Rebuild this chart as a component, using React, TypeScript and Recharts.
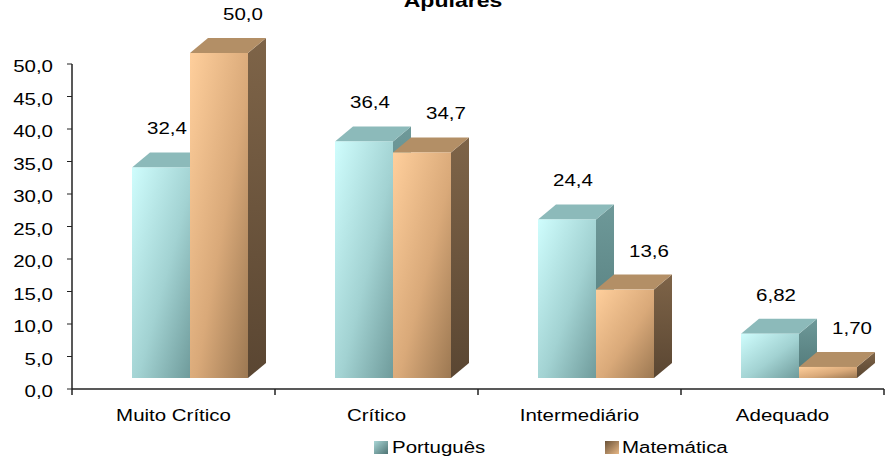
import { BarChart, Bar, XAxis, YAxis, Legend, LabelList } from 'recharts'

const categories = ['Muito Crítico', 'Crítico', 'Intermediário', 'Adequado']
const portugues = [32.4, 36.4, 24.4, 6.82]
const matematica = [50.0, 34.7, 13.6, 1.7]
const labelsPortugues = ['32,4', '36,4', '24,4', '6,82']
const labelsMatematica = ['50,0', '34,7', '13,6', '1,70']
const yTicks = [0, 5, 10, 15, 20, 25, 30, 35, 40, 45, 50]

const data = categories.map((name, i) => ({ name, pt: portugues[i], mat: matematica[i] }))

const FONT = '"Liberation Sans", Arial, sans-serif'
const STRETCH = 1.28
// front face sits up/right of the axis plane, like the excel 3d projection
const SHIFT_X = 16
const SHIFT_Y = -11
const DX = 18
const DY = 15

const palette = {
  pt: { front: 'url(#ptFront)', top: '#8cbaba', side: 'url(#ptSide)' },
  mat: { front: 'url(#matFront)', top: '#b38f66', side: 'url(#matSide)' },
}

function Bar3D(props: any) {
  const { x, y, width, height, variant } = props
  if (x == null || y == null) return null
  const c = palette[variant as 'pt' | 'mat']
  const fx = x + SHIFT_X
  const fy = y + SHIFT_Y
  const w = width
  const h = height
  return (
    <g>
      <polygon
        points={`${fx + w},${fy} ${fx + w + DX},${fy - DY} ${fx + w + DX},${fy + h - DY} ${fx + w},${fy + h}`}
        fill={c.side}
      />
      <polygon
        points={`${fx},${fy} ${fx + DX},${fy - DY} ${fx + w + DX},${fy - DY} ${fx + w},${fy}`}
        fill={c.top}
      />
      <rect x={fx} y={fy} width={w} height={h} fill={c.front} />
    </g>
  )
}

function StretchText({ x, y, anchor, size = 16, weight = 'normal', children }: any) {
  return (
    <text
      transform={`translate(${x},${y}) scale(${STRETCH},1)`}
      textAnchor={anchor}
      fontFamily={FONT}
      fontSize={size}
      fontWeight={weight}
      fill="#000"
    >
      {children}
    </text>
  )
}

function makeLabel(texts: string[], offX: number) {
  return (p: any) => {
    const { x, y, width, index } = p
    const cx = x + width / 2 + SHIFT_X + offX
    const cy = y + SHIFT_Y - 33
    return <StretchText x={cx} y={cy} anchor="middle">{texts[index]}</StretchText>
  }
}

function YTick(p: any) {
  const { x, y, payload } = p
  const txt = payload.value.toFixed(1).replace('.', ',')
  return <StretchText x={x - 14} y={y + 8} anchor="end">{txt}</StretchText>
}

function XTick(p: any) {
  const { x, y, payload, index } = p
  const off = payload.offset ?? 101.5
  return (
    <g>
      <line x1={x - off} y1={y} x2={x - off} y2={y + 6} stroke="#222" strokeWidth={1.5} />
      {index === categories.length - 1 && (
        <line x1={x + off} y1={y} x2={x + off} y2={y + 6} stroke="#222" strokeWidth={1.5} />
      )}
      <StretchText x={x} y={y + 32} anchor="middle">{payload.value}</StretchText>
    </g>
  )
}

function LegendBox() {
  return (
    <svg width={886} height={26}>
      <rect x={374} y={9} width={14} height={13} fill="url(#ptIcon)" />
      <StretchText x={392} y={21} anchor="start">Português</StretchText>
      <rect x={605} y={9} width={14} height={13} fill="url(#matIcon)" />
      <StretchText x={622} y={21} anchor="start">Matemática</StretchText>
    </svg>
  )
}

export default function App() {
  return (
    <div style={{ position: 'absolute', left: 0, top: 0, width: 886, height: 457, background: '#fff' }}>
      <svg width={886} height={20} style={{ position: 'absolute', left: 0, top: 0, zIndex: 2 }}>
        <StretchText x={453} y={7} anchor="middle" size={18} weight="bold">Apuiarés</StretchText>
      </svg>
      <BarChart
        width={886}
        height={457}
        data={data}
        margin={{ top: 64, right: 2, left: 0, bottom: 0 }}
        barGap={0}
        barSize={58}
      >
        <defs>
          <linearGradient id="ptFront" x1="0" y1="0" x2="1" y2="1">
            <stop offset="0%" stopColor="#cffdfd" />
            <stop offset="55%" stopColor="#a2d2d2" />
            <stop offset="100%" stopColor="#6f9b9b" />
          </linearGradient>
          <linearGradient id="ptSide" x1="0" y1="0" x2="0" y2="1">
            <stop offset="0%" stopColor="#6e9999" />
            <stop offset="100%" stopColor="#4f7777" />
          </linearGradient>
          <linearGradient id="matFront" x1="0" y1="0" x2="1" y2="1">
            <stop offset="0%" stopColor="#ffcf9c" />
            <stop offset="55%" stopColor="#d9a979" />
            <stop offset="100%" stopColor="#9c7852" />
          </linearGradient>
          <linearGradient id="matSide" x1="0" y1="0" x2="0" y2="1">
            <stop offset="0%" stopColor="#7e6448" />
            <stop offset="100%" stopColor="#5a4632" />
          </linearGradient>
          <linearGradient id="ptIcon" x1="0" y1="0" x2="1" y2="1">
            <stop offset="0%" stopColor="#a9d6d6" />
            <stop offset="100%" stopColor="#4e7474" />
          </linearGradient>
          <linearGradient id="matIcon" x1="0" y1="0" x2="1" y2="1">
            <stop offset="0%" stopColor="#6a5238" />
            <stop offset="100%" stopColor="#e8b886" />
          </linearGradient>
        </defs>
        <XAxis
          dataKey="name"
          height={68}
          tickLine={false}
          tickSize={0}
          tickMargin={0}
          axisLine={{ stroke: '#222', strokeWidth: 1.5 }}
          tick={<XTick />}
          interval={0}
        />
        <YAxis
          width={72}
          domain={[0, 50]}
          ticks={yTicks}
          tickSize={5}
          tickMargin={0}
          tickLine={{ stroke: '#222' }}
          axisLine={{ stroke: '#222', strokeWidth: 1.5 }}
          tick={<YTick />}
        />
        <Legend
          layout="horizontal"
          verticalAlign="middle"
          align="center"
          wrapperStyle={{ top: 432, left: 0, width: 886, height: 26 }}
          content={() => <LegendBox />}
        />
        <Bar dataKey="pt" name="Português" isAnimationActive={false} shape={(p: any) => <Bar3D {...p} variant="pt" />}>
          <LabelList dataKey="pt" content={makeLabel(labelsPortugues, 6)} />
        </Bar>
        <Bar dataKey="mat" name="Matemática" isAnimationActive={false} shape={(p: any) => <Bar3D {...p} variant="mat" />}>
          <LabelList dataKey="mat" content={makeLabel(labelsMatematica, 24)} />
        </Bar>
      </BarChart>
    </div>
  )
}
